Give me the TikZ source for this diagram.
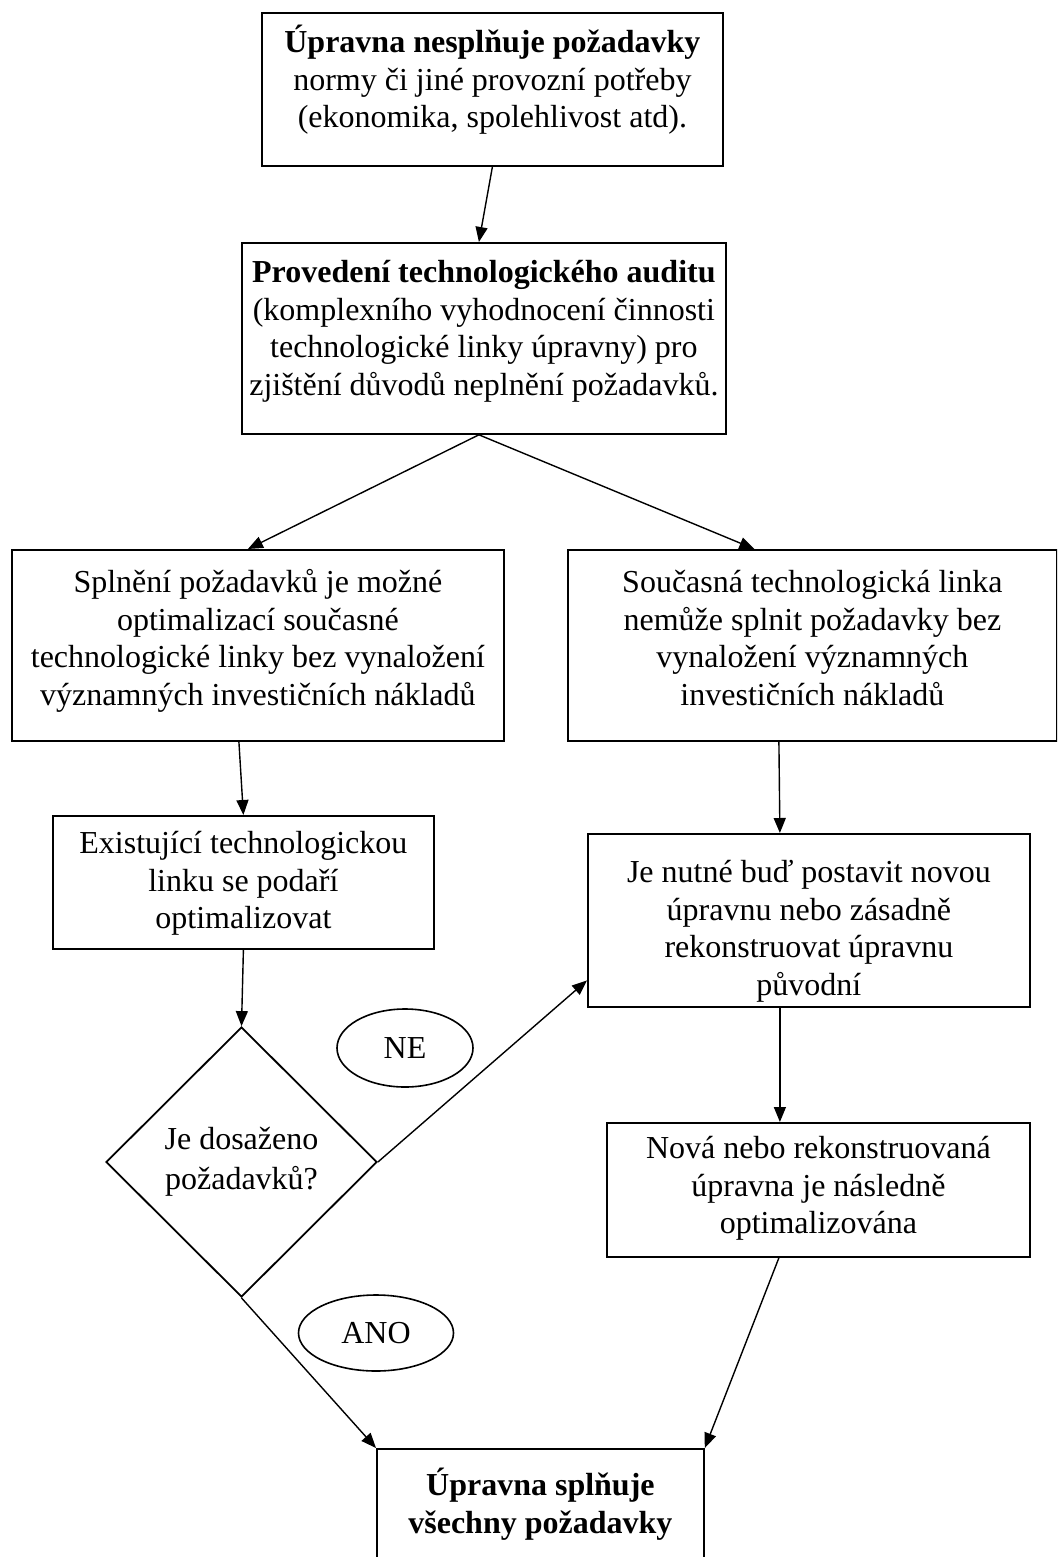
\documentclass[tikz,border=0pt]{standalone}
\usepackage{fontspec}
\setmainfont{Liberation Serif}
\usetikzlibrary{arrows.meta,shapes.geometric}
\newcommand\bxt[4]{\parbox[c][#2pt][t]{#1pt}{\fontsize{32}{37.5}\selectfont\centering\rule{0pt}{#3pt}#4}}
\begin{document}
\begin{tikzpicture}[x=1pt,y=-1pt,
  box/.style={draw,line width=1.8pt,inner sep=0pt,anchor=north west},
  conn/.style={line width=1.4pt,-{Triangle[length=15pt,width=12pt]}},
  ov/.style={draw,ellipse,line width=1.6pt,inner sep=0pt,font=\fontsize{32}{37}\selectfont}]
\clip (0,0) rectangle (1057,1557);
\fill[white] (0,0) rectangle (1057,1557);
\node[box] (b1) at (261,12) {\bxt{461}{153}{40}{\textbf{Úpravna nesplňuje požadavky}\\normy či jiné provozní potřeby\\(ekonomika, spolehlivost atd).}};
\node[box] (b2) at (241,242) {\bxt{484}{191}{40}{\textbf{Provedení technologického auditu}\\(komplexního vyhodnocení činnosti\\technologické linky úpravny) pro\\zjištění důvodů neplnění požadavků.}};
\node[box] (bl) at (11,549) {\bxt{492}{191}{43}{Splnění požadavků je možné\\optimalizací současné\\technologické linky bez vynaložení\\významných investičních nákladů}};
\node[box] (br) at (567,549) {\bxt{489}{191}{43}{Současná technologická linka\\nemůže splnit požadavky bez\\vynaložení významných\\investičních nákladů}};
\node[box] (ex) at (52,815) {\bxt{381}{133}{38}{Existující technologickou\\linku se podaří\\optimalizovat}};
\node[box] (jn) at (587,833) {\bxt{442}{173}{49}{Je nutné buď postavit novou\\úpravnu nebo zásadně\\rekonstruovat úpravnu\\původní}};
\node[box] (nv) at (606,1122) {\bxt{423}{134}{36}{Nová nebo rekonstruovaná\\úpravna je následně\\optimalizována}};
\node[box] (fin) at (376,1448) {\bxt{327}{152}{47}{{\bfseries Úpravna splňuje\\všechny požadavky}}};
\node[draw,diamond,line width=1.8pt,inner sep=0pt,minimum width=271pt,minimum height=270pt,align=center,font=\fontsize{32}{40}\selectfont] (dia) at (241.5,1162) {Je dosaženo\\požadavků?};
\node[ov,minimum width=136pt,minimum height=78pt] (ne) at (405,1048) {NE};
\node[ov,minimum width=155pt,minimum height=76pt] (ano) at (376,1333) {ANO};
\draw[conn] (b1.south) -- ([xshift=-5pt]b2.north);
\draw[conn] ([xshift=-5pt]b2.south) -- ([xshift=-10pt]bl.north);
\draw[conn] ([xshift=-5pt]b2.south) -- ([xshift=-58pt]br.north);
\draw[conn] ([xshift=-19pt]bl.south) -- (ex.north);
\draw[conn] (ex.south) -- (dia.north);
\draw[conn] (dia.east) -- ([yshift=-60pt]jn.west);
\draw[conn] ([xshift=-33.5pt]br.south) -- ([xshift=-29pt]jn.north);
\draw[conn] ([xshift=-29pt]jn.south) -- ([xshift=-38.5pt]nv.north);
\draw[conn] ([xshift=-39.5pt]nv.south) -- (fin.north east);
\draw[conn] (dia.south) -- (fin.north west);
\end{tikzpicture}
\end{document}
